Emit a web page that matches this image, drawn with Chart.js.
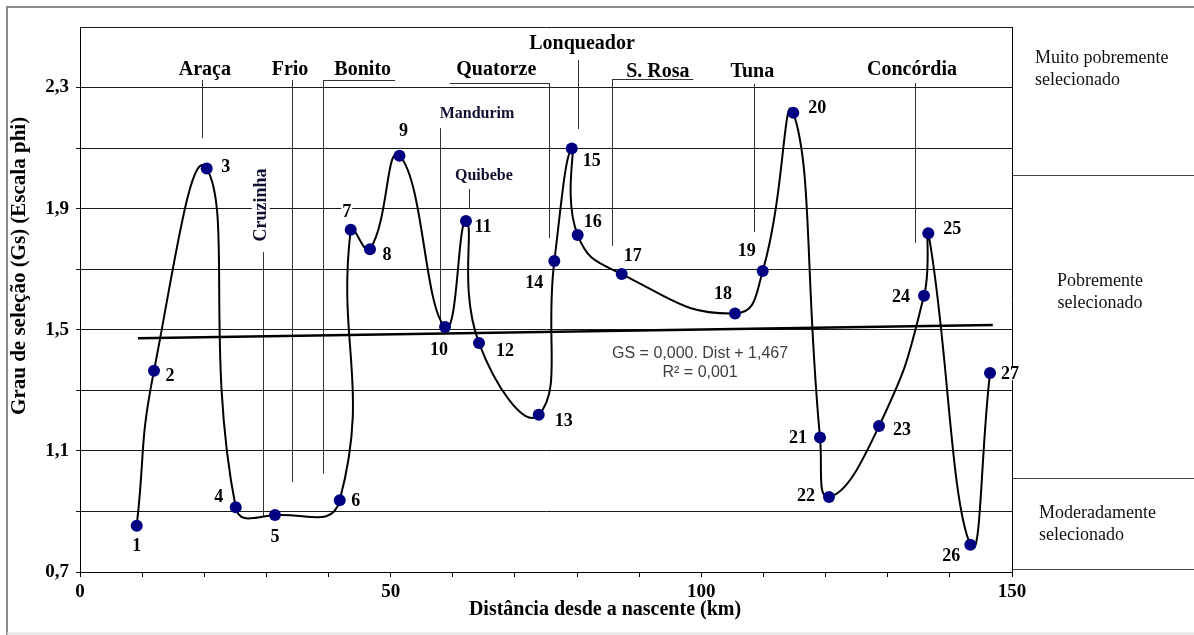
<!DOCTYPE html>
<html>
<head>
<meta charset="utf-8">
<script src="https://cdn.jsdelivr.net/npm/chart.js@4.4.1/dist/chart.umd.min.js"></script>
<style>
  html, body { margin: 0; padding: 0; background: #fff; }
  #wrap { width: 1194px; height: 635px; position: relative; }
</style>
</head>
<body>
<div id="wrap"><canvas id="myChart" width="1194" height="635"></canvas></div>
<script>
// Sampling stations: distance from the source (km) and sorting (phi scale)
const distances = [9.13, 11.91, 20.39, 25.06, 31.38, 41.80, 43.57, 46.67, 51.42, 58.75, 62.12, 64.22, 73.83, 76.34, 79.14, 80.10, 87.18, 105.42, 109.88, 114.80, 119.10, 120.55, 128.60, 135.84, 136.53, 143.29, 146.46];
const sorting = [0.853, 1.365, 2.033, 0.914, 0.888, 0.937, 1.830, 1.766, 2.075, 1.509, 1.859, 1.456, 1.219, 1.727, 2.099, 1.813, 1.684, 1.554, 1.694, 2.217, 1.144, 0.948, 1.182, 1.612, 1.819, 0.790, 1.357];
const stationNames = ['1','2','3','4','5','6','7','8','9','10','11','12','13','14','15','16','17','18','19','20','21','22','23','24','25','26','27'];

// linear trend line ends
const trendX = [9.33, 146.9];
const trendY = [1.472, 1.516];
const regressionText = ['GS = 0,000. Dist + 1,467', 'R² = 0,001'];

// tick labels
const xTickLabels = ['0', '50', '100', '150'];
const yTickLabels = ['0,7', '1,1', '1,5', '1,9', '2,3'];

// tributaries
const tributaryNames = ['Araça', 'Frio', 'Bonito', 'Cruzinha', 'Mandurim', 'Quibebe', 'Quatorze', 'Lonqueador', 'S. Rosa', 'Tuna', 'Concórdia'];
const tributaryTextX = [20.1, 33.8, 45.5, 29.1, 63.9, 65.0, 67.0, 80.8, 93.0, 108.2, 133.9];
const tributaryTextY = [2.358, 2.358, 2.358, 1.912, 2.213, 2.008, 2.358, 2.444, 2.351, 2.351, 2.358];
const tributaryLineX = [19.6, 34.1, 39.1, 29.5, 57.9, 62.6, 75.5, 80.1, 85.6, 108.5, 134.4];
const tributaryLineTop = [2.325, 2.325, 2.325, 1.757, 2.166, 1.965, 2.315, 2.391, 2.328, 2.312, 2.315];
const tributaryLineBottom = [2.133, 0.997, 1.024, 0.882, 1.516, 1.899, 1.803, 2.163, 1.777, 1.823, 1.787];
const tributaryUnderline = [null, null, [39.1, 50.7], null, null, null, [59.5, 75.5], null, [85.6, 98.7], null, null];
const tributaryKind = ['big', 'big', 'big', 'vertical', 'small', 'small', 'big', 'big', 'big', 'big', 'big'];

// sorting classes on the right
const zoneNames = [['Muito pobremente', 'selecionado'], ['Pobremente', 'selecionado'], ['Moderadamente', 'selecionado']];
const zoneBounds = [2.01, 1.01, 0.71];
const zoneTextY = [2.36, 1.623, 0.859];

// label offsets (px) of the station numbers
const labelDx = [0, 16, 19, -17, 0, 16, -4, 17, 4, -6, 17, 26, 25, -20, 20, 15, 11, -12, -16, 24, -22, -23, 23, -23, 24, -19, 20];
const labelDy = [20, 5, -2, -11, 21, 0, -19, 5, -25, 22, 5, 7, 5, 21, 12, -14, -19, -20, -21, -5, 0, -2, 3, 0, -5, 11, 0];

const serif = '"Liberation Serif", "Times New Roman", serif';

const annotate = {
  id: 'annotate',
  beforeDraw(chart) {
    const ctx = chart.ctx;
    const ca = chart.chartArea;
    const y = chart.scales.y;
    ctx.save();
    // outer frame
    ctx.strokeStyle = '#8a8a8a';
    ctx.lineWidth = 2;
    ctx.beginPath();
    ctx.moveTo(7, 635); ctx.lineTo(7, 7); ctx.lineTo(1194, 7);
    ctx.stroke();
    ctx.strokeStyle = '#e2e2e2';
    ctx.beginPath(); ctx.moveTo(7, 633.5); ctx.lineTo(1194, 633.5); ctx.stroke();
    // class boundaries
    ctx.strokeStyle = '#444';
    ctx.lineWidth = 1;
    zoneBounds.forEach(v => {
      const py = Math.round(y.getPixelForValue(v)) + 0.5;
      ctx.beginPath(); ctx.moveTo(ca.right, py); ctx.lineTo(1194, py); ctx.stroke();
    });
    ctx.fillStyle = '#111';
    ctx.font = '18px ' + serif;
    ctx.textBaseline = 'middle';
    zoneNames.forEach((lines, i) => {
      const cy = y.getPixelForValue(zoneTextY[i]);
      lines.forEach((t, j) => {
        const py = cy + (j - 0.5) * 22;
        if (i === 1) { ctx.textAlign = 'center'; ctx.fillText(t, ca.right + 88, py); }
        else { ctx.textAlign = 'left'; ctx.fillText(t, ca.right + (i === 0 ? 23 : 27), py); }
      });
    });
    ctx.restore();
  },
  beforeDatasetsDraw(chart) {
    const ctx = chart.ctx;
    const x = chart.scales.x, y = chart.scales.y;
    ctx.save();
    // leader lines
    ctx.strokeStyle = '#333';
    ctx.lineWidth = 1;
    tributaryNames.forEach((n, i) => {
      const px = Math.round(x.getPixelForValue(tributaryLineX[i])) + 0.5;
      const top = y.getPixelForValue(tributaryLineTop[i]);
      ctx.beginPath();
      if (tributaryUnderline[i]) {
        ctx.moveTo(x.getPixelForValue(tributaryUnderline[i][0]), Math.round(top) + 0.5);
        ctx.lineTo(x.getPixelForValue(tributaryUnderline[i][1]), Math.round(top) + 0.5);
      }
      ctx.moveTo(px, top);
      ctx.lineTo(px, y.getPixelForValue(tributaryLineBottom[i]));
      ctx.stroke();
    });
    // tributary names
    ctx.textAlign = 'center';
    ctx.textBaseline = 'middle';
    tributaryNames.forEach((n, i) => {
      const px = x.getPixelForValue(tributaryTextX[i]);
      const py = y.getPixelForValue(tributaryTextY[i]);
      if (tributaryKind[i] === 'vertical') {
        ctx.save();
        ctx.translate(px, py);
        ctx.rotate(-Math.PI / 2);
        ctx.font = 'bold 18px ' + serif;
        const w = ctx.measureText(n).width;
        ctx.fillStyle = '#fff';
        ctx.fillRect(-w / 2 - 3, -9, w + 6, 18);
        ctx.fillStyle = '#101030';
        ctx.fillText(n, 0, 1);
        ctx.restore();
      } else {
        ctx.font = (tributaryKind[i] === 'small' ? 'bold 16px ' : 'bold 20px ') + serif;
        ctx.fillStyle = tributaryKind[i] === 'small' ? '#101030' : '#000';
        ctx.fillText(n, px, py);
      }
    });
    // white boxes behind station numbers
    ctx.font = 'bold 18px ' + serif;
    ctx.fillStyle = '#fff';
    const meta = chart.getDatasetMeta(0);
    meta.data.forEach((pt, i) => {
      const w = ctx.measureText(stationNames[i]).width;
      ctx.fillRect(pt.x + labelDx[i] - w / 2 - 1, pt.y + labelDy[i] - 7, w + 2, 14);
    });
    // regression equation
    ctx.font = '16px "Liberation Sans", Arial, sans-serif';
    ctx.fillStyle = '#404040';
    const rx = x.getPixelForValue(99.8);
    ctx.fillText(regressionText[0], rx, y.getPixelForValue(1.42));
    ctx.fillText(regressionText[1], rx, y.getPixelForValue(1.357));
    ctx.restore();
  },
  afterDatasetsDraw(chart) {
    const ctx = chart.ctx;
    const x = chart.scales.x, y = chart.scales.y;
    ctx.save();
    ctx.font = 'bold 18px ' + serif;
    ctx.fillStyle = '#000';
    ctx.textAlign = 'center';
    ctx.textBaseline = 'middle';
    const meta = chart.getDatasetMeta(0);
    meta.data.forEach((pt, i) => {
      ctx.fillText(stationNames[i], pt.x + labelDx[i], pt.y + labelDy[i] + 1);
    });
    // axis titles
    ctx.font = 'bold 20px ' + serif;
    ctx.fillText('Distância desde a nascente (km)', x.getPixelForValue(84.5), 610);
    ctx.font = 'bold 21px ' + serif;
    ctx.translate(20, y.getPixelForValue(1.711));
    ctx.rotate(-Math.PI / 2);
    ctx.fillText('Grau de seleção (Gs) (Escala phi)', 0, 0);
    ctx.restore();
  }
};

const ctx = document.getElementById('myChart').getContext('2d');
const myChart = new Chart(ctx, {
  type: 'line',
  data: {
    datasets: [{
      label: 'Gs',
      data: distances.map((d, i) => ({ x: d, y: sorting[i] })),
      borderColor: '#000',
      borderWidth: 2,
      tension: 0.5,
      pointRadius: 6,
      pointBackgroundColor: '#000080',
      pointBorderWidth: 0,
      order: 0
    }, {
      label: 'Linear',
      data: trendX.map((d, i) => ({ x: d, y: trendY[i] })),
      borderColor: '#000',
      borderWidth: 2.5,
      pointRadius: 0,
      tension: 0,
      order: 1
    }]
  },
  options: {
    responsive: false,
    animation: false,
    layout: { padding: { left: 0, right: 182, top: 27, bottom: 0 } },
    plugins: { legend: { display: false }, tooltip: { enabled: false } },
    scales: {
      x: {
        type: 'linear',
        min: 0, max: 150,
        afterFit(scale) { scale.height = 63; },
        ticks: {
          stepSize: 10,
          autoSkip: false,
          maxRotation: 0,
          padding: 4,
          color: '#000',
          font: { family: serif, size: 19, weight: 'bold' },
          callback: v => xTickLabels.includes(String(v)) ? String(v) : ''
        },
        grid: {
          color: c => c.tick && c.tick.value === 150 ? '#000' : 'rgba(0,0,0,0)',
          tickColor: '#000',
          tickLength: 5
        },
        border: { display: true, color: '#000' }
      },
      y: {
        min: 0.7, max: 2.5,
        afterFit(scale) { scale.width = 80; },
        ticks: {
          stepSize: 0.2,
          autoSkip: false,
          padding: 7,
          color: '#000',
          font: { family: serif, size: 19, weight: 'bold' },
          callback: v => {
            const s = v.toFixed(1).replace('.', ',');
            return yTickLabels.includes(s) ? s : '';
          }
        },
        grid: {
          color: '#1a1a1a',
          tickColor: c => c.tick && Math.abs(c.tick.value - 2.5) < 1e-6 ? 'rgba(0,0,0,0)' : '#1a1a1a',
          tickLength: 4
        },
        border: { display: true, color: '#000' }
      }
    }
  },
  plugins: [annotate]
});
</script>
</body>
</html>
